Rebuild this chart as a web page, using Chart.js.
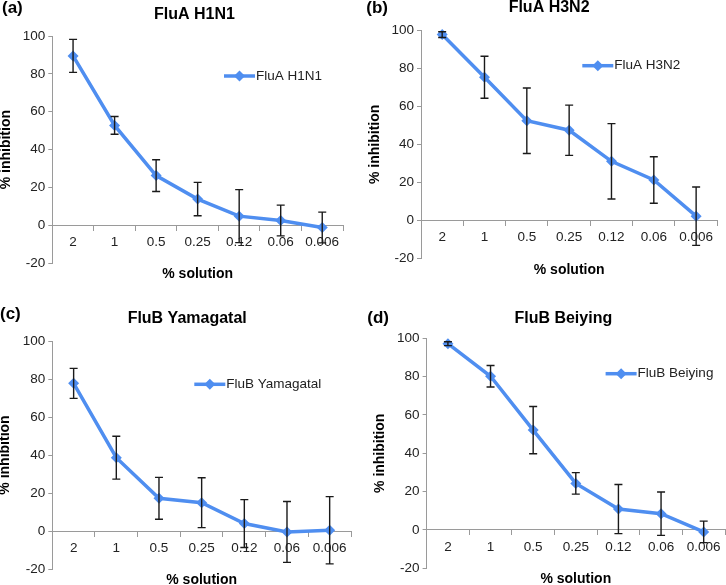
<!DOCTYPE html>
<html>
<head>
<meta charset="utf-8">
<script src="https://cdn.jsdelivr.net/npm/chart.js@4.4.1/dist/chart.umd.min.js"></script>
<style>
  html, body { margin: 0; padding: 0; background: #fff; width: 726px; height: 585px; overflow: hidden; }
  canvas { position: absolute; }
</style>
</head>
<body>
<canvas id="chartA"></canvas>
<canvas id="chartB"></canvas>
<canvas id="chartC"></canvas>
<canvas id="chartD"></canvas>
<script>
  // categories (x axis)
  var doses = ['2', '1', '0.5', '0.25', '0.12', '0.06', '0.006'];

  // % inhibition, mean and error (+/-) per dose
  var h1n1Mean = [89.5, 52.8, 26.3, 13.9, 4.9, 2.6, -1.1];
  var h1n1Err = [8.7, 4.7, 8.4, 8.8, 14, 8.1, 8.1];

  var h3n2Mean = [97.6, 75.2, 52.4, 47.4, 31.1, 21.3, 2.3];
  var h3n2Err = [1.5, 11, 17.2, 13.2, 19.8, 12.2, 15.3];

  var yamaMean = [77.7, 38.6, 17.2, 14.9, 3.9, -0.5, 0.4];
  var yamaErr = [7.9, 11.3, 11, 13.1, 12.6, 16, 17.7];

  var beiMean = [97.2, 80.2, 52.1, 24.3, 10.9, 8.5, -1];
  var beiErr = [1, 5.6, 12.3, 5.6, 12.8, 11.3, 5.6];

  // y axis range
  var yMin = -20;
  var yMax = 100;
  var yStep = 20;

  var BLUE = '#4f8ef0';
  var AXIS = '#9a9a9a';
  var FONT = '"Liberation Sans", Arial, sans-serif';

  // where each panel sits on the page
  var panels = [
    { id: 'chartA', letter: '(a)', title: 'FluA H1N1', mean: h1n1Mean, err: h1n1Err,
      top: 0, yTitleX: 6, area: { left: 52.3, right: 343, top: 36, bottom: 263.3 },
      letterPos: [2, 8], titlePos: [194.5, 15], legendPos: [224, 76] },
    { id: 'chartB', letter: '(b)', title: 'FluA H3N2', mean: h3n2Mean, err: h3n2Err,
      top: 0, yTitleX: 374.7, area: { left: 420.7, right: 717, top: 30, bottom: 258.7 },
      letterPos: [366, 8], titlePos: [548.8, 8], legendPos: [582, 65.7] },
    { id: 'chartC', letter: '(c)', title: 'FluB Yamagatal', mean: yamaMean, err: yamaErr,
      top: 292, yTitleX: 5, area: { left: 52.3, right: 351, top: 341, bottom: 569 },
      letterPos: [0, 314], titlePos: [187.2, 319], legendPos: [194.3, 384.3] },
    { id: 'chartD', letter: '(d)', title: 'FluB Beiying', mean: beiMean, err: beiErr,
      top: 292, yTitleX: 379.7, area: { left: 426.3, right: 724.7, top: 338.3, bottom: 568.3 },
      letterPos: [367, 318], titlePos: [563, 319], legendPos: [605.3, 373.7] }
  ];

  // error bars, drawn from the y scale
  var errorBars = {
    id: 'errorBars',
    afterDatasetsDraw: function(chart) {
      var ctx = chart.ctx;
      var yScale = chart.scales.y;
      chart.data.datasets.forEach(function(ds, d) {
        var meta = chart.getDatasetMeta(d);
        ctx.save();
        ctx.strokeStyle = '#1a1a1a';
        ctx.lineWidth = 1.4;
        meta.data.forEach(function(pt, i) {
          var top = yScale.getPixelForValue(ds.data[i] + ds.errors[i]);
          var bot = yScale.getPixelForValue(ds.data[i] - ds.errors[i]);
          ctx.beginPath();
          ctx.moveTo(pt.x, top); ctx.lineTo(pt.x, bot);
          ctx.moveTo(pt.x - 4, top); ctx.lineTo(pt.x + 4, top);
          ctx.moveTo(pt.x - 4, bot); ctx.lineTo(pt.x + 4, bot);
          ctx.stroke();
        });
        ctx.restore();
      });
    }
  };

  // panel letter, title, x axis title and the legend
  var panelText = {
    id: 'panelText',
    afterDraw: function(chart) {
      var p = chart.options.plugins.panelText;
      var ctx = chart.ctx;
      var area = chart.chartArea;
      ctx.save();
      ctx.fillStyle = '#000';
      ctx.textBaseline = 'middle';
      ctx.font = 'bold 17px ' + FONT;
      ctx.textAlign = 'left';
      ctx.fillText(p.letter, p.letterPos[0], p.letterPos[1]);
      ctx.font = 'bold 16px ' + FONT;
      ctx.textAlign = 'center';
      ctx.fillText(p.title, p.titlePos[0], p.titlePos[1]);
      ctx.font = 'bold 14px ' + FONT;
      ctx.fillText('% solution', (area.left + area.right) / 2, area.bottom + 11);

      // legend: line with a diamond, then the label
      var lx = p.legendPos[0], ly = p.legendPos[1];
      ctx.strokeStyle = BLUE;
      ctx.lineWidth = 3.5;
      ctx.beginPath();
      ctx.moveTo(lx, ly); ctx.lineTo(lx + 31, ly);
      ctx.stroke();
      ctx.fillStyle = BLUE;
      ctx.beginPath();
      ctx.moveTo(lx + 15.5, ly - 5.5);
      ctx.lineTo(lx + 21, ly);
      ctx.lineTo(lx + 15.5, ly + 5.5);
      ctx.lineTo(lx + 10, ly);
      ctx.closePath();
      ctx.fill();
      ctx.fillStyle = '#222';
      ctx.font = '13.5px ' + FONT;
      ctx.textAlign = 'left';
      ctx.fillText(p.title, lx + 32, ly);
      ctx.restore();
    }
  };

  function makePanel(p) {
    var canvas = document.getElementById(p.id);
    var margin = 10; // room left of the axis title for the panel letter
    var left = p.yTitleX - 7 - margin;
    var yAxisWidth = p.area.left - (left + margin);
    var padRight = 10;
    var padBottom = 24;
    canvas.width = Math.round(p.area.right - left + padRight);
    canvas.height = Math.round(p.area.bottom - p.top + padBottom);
    canvas.style.left = left + 'px';
    canvas.style.top = p.top + 'px';

    var off = function(pos) { return [pos[0] - left, pos[1] - p.top]; };

    new Chart(canvas, {
      type: 'line',
      data: {
        labels: doses,
        datasets: [{
          label: p.title,
          data: p.mean,
          errors: p.err,
          borderColor: BLUE,
          backgroundColor: BLUE,
          borderWidth: 3.5,
          pointStyle: 'rectRot',
          pointRadius: 5.5,
          pointBorderWidth: 0,
          pointBackgroundColor: BLUE,
          tension: 0,
          clip: false
        }]
      },
      options: {
        responsive: false,
        animation: false,
        devicePixelRatio: 1,
        layout: { padding: { left: margin, right: canvas.width - (p.area.right - left), top: p.area.top - p.top, bottom: canvas.height - (p.area.bottom - p.top) } },
        plugins: {
          legend: { display: false },
          tooltip: { enabled: false },
          panelText: {
            letter: p.letter,
            title: p.title,
            letterPos: off(p.letterPos),
            titlePos: off(p.titlePos),
            legendPos: off(p.legendPos)
          }
        },
        scales: {
          x: {
            type: 'category',
            position: { y: 0 },
            offset: true,
            grid: { offset: true, drawOnChartArea: false, drawTicks: true, tickLength: 5, color: AXIS },
            border: { display: true, color: AXIS, width: 1 },
            ticks: { color: '#222', padding: 4, maxRotation: 0, autoSkip: false, font: { family: FONT, size: 13.5 } },
            afterFit: function(s) { s.height = 0; }
          },
          y: {
            min: yMin,
            max: yMax,
            ticks: { stepSize: yStep, color: '#222', padding: 3, font: { family: FONT, size: 13.5 } },
            grid: { drawOnChartArea: false, drawTicks: true, tickLength: 4, color: AXIS },
            border: { display: true, color: AXIS, width: 1 },
            title: { display: true, text: '% inhibition', color: '#000', padding: 0, font: { family: FONT, size: 14, weight: 'bold', lineHeight: 1 } },
            afterFit: function(s) { s.width = yAxisWidth; }
          }
        }
      },
      plugins: [errorBars, panelText]
    });
  }

  panels.forEach(makePanel);
</script>
</body>
</html>
